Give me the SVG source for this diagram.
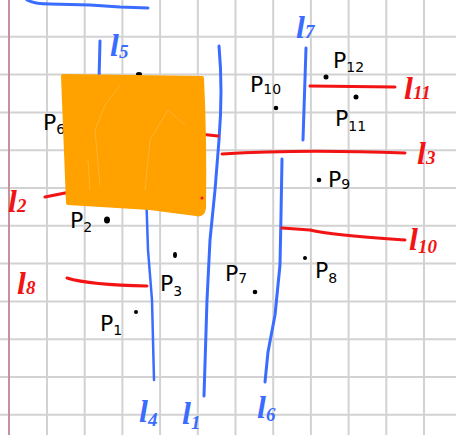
<svg xmlns="http://www.w3.org/2000/svg" width="456" height="435" viewBox="0 0 456 435">
<style>
.grid line{stroke:#d2d2d2;stroke-width:2}
.blue{fill:none;stroke:#3a6cff;stroke-width:3;stroke-linecap:round;stroke-linejoin:round}
.red{fill:none;stroke:#f21414;stroke-width:3;stroke-linecap:round;stroke-linejoin:round}
.pt{fill:#000}
.pl{font-family:"DejaVu Sans",sans-serif;font-size:22px;fill:#000}
.sub{font-size:14px}
.lb{font-family:"Liberation Serif",serif;font-style:italic;font-weight:bold;font-size:32px;fill:#3a6cff}
.lr{font-family:"Liberation Serif",serif;font-style:italic;font-weight:bold;font-size:32px;fill:#f21414}
.ls{font-size:19px}
</style>
<rect width="456" height="435" fill="#fff"/>
<g class="grid">
<line x1="47" y1="0" x2="47" y2="435"/><line x1="84.7" y1="0" x2="84.7" y2="435"/><line x1="122.4" y1="0" x2="122.4" y2="435"/><line x1="160.1" y1="0" x2="160.1" y2="435"/><line x1="197.8" y1="0" x2="197.8" y2="435"/><line x1="235.5" y1="0" x2="235.5" y2="435"/><line x1="273.2" y1="0" x2="273.2" y2="435"/><line x1="310.9" y1="0" x2="310.9" y2="435"/><line x1="348.6" y1="0" x2="348.6" y2="435"/><line x1="386.3" y1="0" x2="386.3" y2="435"/><line x1="424" y1="0" x2="424" y2="435"/>
<line x1="0" y1="36.8" x2="456" y2="36.8"/><line x1="0" y1="74.6" x2="456" y2="74.6"/><line x1="0" y1="112.4" x2="456" y2="112.4"/><line x1="0" y1="150.2" x2="456" y2="150.2"/><line x1="0" y1="188" x2="456" y2="188"/><line x1="0" y1="225.8" x2="456" y2="225.8"/><line x1="0" y1="263.6" x2="456" y2="263.6"/><line x1="0" y1="301.4" x2="456" y2="301.4"/><line x1="0" y1="339.2" x2="456" y2="339.2"/><line x1="0" y1="377" x2="456" y2="377"/><line x1="0" y1="414.8" x2="456" y2="414.8"/>
<line x1="9" y1="0" x2="9" y2="435" style="stroke:#c8909c"/>
</g>
<g id="connectors">
<path class="blue" d="M27,0 Q34,4 50,4 L90,5 L120,7 L148,8"/>
<path id="l5" class="blue" d="M100,41 L99,80"/>
<path id="l4" class="blue" style="stroke-width:2.5" d="M146,190 L148,250 L152,300 L154,380"/>
<path id="l1" class="blue" d="M219,46 Q223,90 219,140 L215,190 L210,240 L207,300 L204,396"/>
<path id="l6" class="blue" d="M282,159 L281,215 L280,265 L275,315 L268,352 L265,382"/>
<path id="l7" class="blue" d="M306,48 L303,140"/>
<path class="red" d="M190,133 L218,136"/>
<path id="l2" class="red" d="M45,197 L70,192"/>
<path id="l11" class="red" d="M310,86 L395,87"/>
<path id="l3" class="red" d="M222,154 Q300,149 405,153"/>
<path id="l10" class="red" d="M282,228 L310,230 Q330,235 405,240"/>
<path id="l8" class="red" d="M67,278 Q90,285 147,286"/>
</g>
<g id="points">
<ellipse class="pt" cx="139" cy="74" rx="3" ry="2"/>
<circle class="pt" cx="326" cy="77" r="2.5"/>
<circle class="pt" cx="276" cy="108" r="2.3"/>
<circle class="pt" cx="356" cy="97" r="2.5"/>
<circle class="pt" cx="319" cy="180" r="2.3"/>
<circle class="pt" cx="305" cy="258" r="2"/>
<circle class="pt" cx="255" cy="292" r="2.3"/>
<ellipse class="pt" cx="175" cy="255" rx="2" ry="3"/>
<circle class="pt" cx="136" cy="312" r="2"/>
<ellipse class="pt" cx="107" cy="220" rx="3" ry="3.5"/>
</g>
<g id="point-labels">
<text class="pl" x="43" y="130">P<tspan class="sub" dy="4">6</tspan></text>
<text class="pl" x="333" y="68">P<tspan class="sub" dy="4">12</tspan></text>
<text class="pl" x="250" y="92">P<tspan class="sub" dy="2">10</tspan></text>
<text class="pl" x="335" y="126">P<tspan class="sub" dy="5">11</tspan></text>
<text class="pl" x="328" y="187">P<tspan class="sub" dy="2">9</tspan></text>
<text class="pl" x="315" y="278">P<tspan class="sub" dy="5">8</tspan></text>
<text class="pl" x="225" y="281">P<tspan class="sub" dy="2">7</tspan></text>
<text class="pl" x="160" y="291">P<tspan class="sub" dy="5">3</tspan></text>
<text class="pl" x="100" y="331">P<tspan class="sub" dy="4">1</tspan></text>
<text class="pl" x="70" y="228">P<tspan class="sub" dy="4">2</tspan></text>
</g>
<g id="obstacle">
<path d="M63,76 L202,78 Q205,140 204,208 Q203,216 196,214 L150,208 L68,203 Z" fill="#ffa200" stroke="#ffa200" stroke-width="4" stroke-linejoin="round"/>
<path d="M100,185 L95,130 L105,105 L120,85 M145,190 L150,140 L168,110 L185,125 M88,160 L90,190" fill="none" stroke="#ffc46a" stroke-width="0.8" opacity="0.6"/>
<circle cx="202" cy="198" r="1.5" fill="#f21414"/>
</g>
<g id="line-labels">
<text class="lb" x="110" y="56">l<tspan class="ls" dy="2">5</tspan></text>
<text class="lb" x="296" y="38">l<tspan class="ls" dy="0">7</tspan></text>
<text class="lb" x="139" y="422">l<tspan class="ls" dy="4">4</tspan></text>
<text class="lb" x="182" y="424">l<tspan class="ls" dy="5">1</tspan></text>
<text class="lb" x="257" y="418">l<tspan class="ls" dy="3">6</tspan></text>
<text class="lr" x="404" y="99">l<tspan class="ls" dy="0">11</tspan></text>
<text class="lr" x="417" y="164">l<tspan class="ls" dy="0">3</tspan></text>
<text class="lr" x="409" y="250">l<tspan class="ls" dy="3">10</tspan></text>
<text class="lr" x="8" y="212">l<tspan class="ls" dy="0">2</tspan></text>
<text class="lr" x="17" y="294">l<tspan class="ls" dy="0">8</tspan></text>
</g>
</svg>
